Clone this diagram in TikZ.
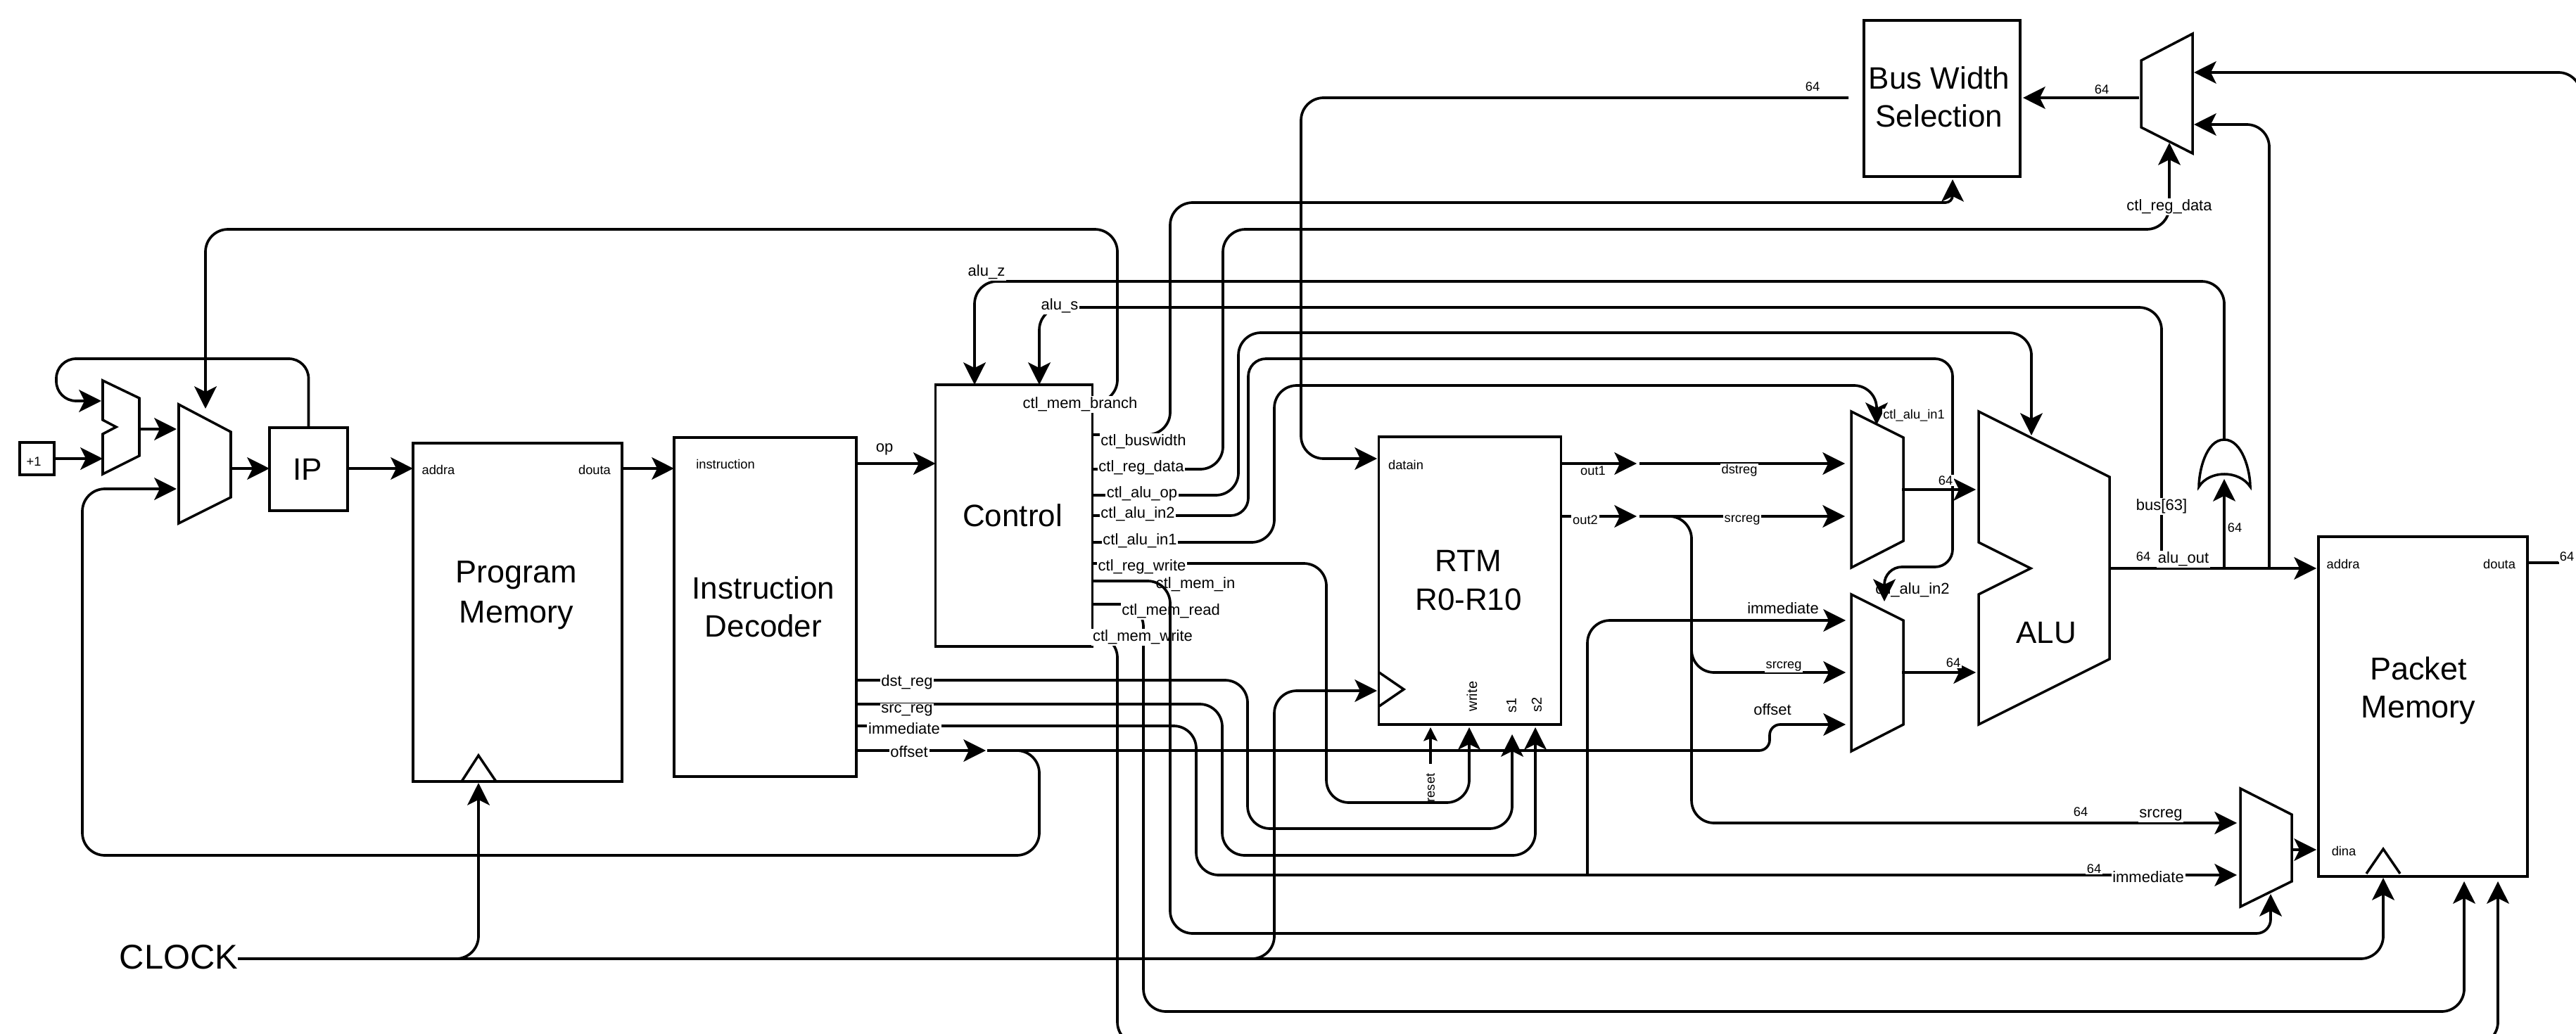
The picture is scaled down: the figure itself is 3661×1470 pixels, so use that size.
\documentclass[tikz,border=0pt]{standalone}
\usepackage{fontspec}
\setmainfont{Liberation Sans}
\usetikzlibrary{arrows.meta}

\begin{document}
\begin{tikzpicture}[
    x=0.01cm, y=-0.01cm,
    blk/.style={draw, line width=1pt, inner sep=0pt, outer sep=0pt},
    shp/.style={draw, line width=1pt, line join=miter},
    line/.style={line width=1.05pt, rounded corners=0.32cm},
    wire/.style={line, -{Stealth[length=9pt, width=9pt, inset=2.2pt]}},
    thin wire/.style={line, -{Stealth[length=5.5pt, width=5.5pt, inset=1pt]}},
    bigtxt/.style={font=\fontsize{12.5}{15.5}\selectfont, align=center, inner sep=0pt},
    lbl/.style={font=\fontsize{6.26}{7}\selectfont, fill=white, inner sep=0.5pt, yshift=-0.03cm},
    sublbl/.style={font=\fontsize{5.2}{6}\selectfont, fill=white, inner sep=0.5pt, yshift=-0.02cm},
    rotlbl/.style={font=\fontsize{5.7}{6}\selectfont, rotate=90, inner sep=0pt},
]
\useasboundingbox (0,0) rectangle (3661,1470);
\clip (0,0) rectangle (3661,1470);

% --- Blocks ---
\node[blk, minimum width=0.49cm, minimum height=0.46cm] (plus) at (52.5,652) {};
\node[blk, minimum width=1.11cm, minimum height=1.18cm] (ip) at (438.5,667) {};
\node[blk, minimum width=2.97cm, minimum height=4.81cm] (pm) at (735.5,870.5) {};
\node[blk, minimum width=2.59cm, minimum height=4.82cm] (dec) at (1087.5,863) {};
\node[blk, minimum width=2.225cm, minimum height=3.72cm] (ctl) at (1441,733) {};
\node[blk, minimum width=2.59cm, minimum height=4.09cm] (rtm) at (2089,825.5) {};
\node[blk, minimum width=2.22cm, minimum height=2.22cm] (bus) at (2760,140) {};
\node[blk, minimum width=2.97cm, minimum height=4.83cm] (pkt) at (3443.5,1004.5) {};

% Muxes, adder, ALU
\draw[shp] (146,541) -- (198,566) -- (198,648) -- (146,674) -- (146,617)
    -- (165,607) -- (146,597) -- cycle;
\draw[shp] (254,575) -- (328,614) -- (328,707) -- (254,744) -- cycle;
\draw[shp] (3043,86) -- (3116,48) -- (3116,218) -- (3043,181) -- cycle;
\draw[shp] (2631,585) -- (2705,622) -- (2705,769) -- (2631,807) -- cycle;
\draw[shp] (2631,845) -- (2705,882) -- (2705,1030) -- (2631,1068) -- cycle;
\draw[shp] (3184,1121) -- (3257,1158) -- (3257,1253) -- (3184,1289) -- cycle;
\draw[shp] (2812,585) -- (2998,678) -- (2998,937) -- (2812,1030) -- (2812,845)
    -- (2886,808) -- (2812,771) -- cycle;

% Clock triangles
\draw[shp] (656,1111) -- (680,1074) -- (705,1111);
\draw[shp] (1960,956) -- (1995,980) -- (1960,1004);
\draw[shp] (3363,1242) -- (3387,1207) -- (3411,1242);

% OR gate
\draw[shp] (3161,625) .. controls (3135,625) and (3125,670) .. (3125,692)
    .. controls (3140,668) and (3182,668) .. (3198,692)
    .. controls (3198,670) and (3187,625) .. (3161,625);

% Block titles
\node[bigtxt] (iptxt) at (437,667) {IP};
\node[bigtxt, font=\fontsize{12.8}{16.2}\selectfont] (pmtxt) at (734,846) {Program\\Memory};
\node[bigtxt] (dectxt) at (1085,863) {Instruction\\Decoder};
\node[bigtxt] (ctltxt) at (1439,733) {Control};
\node[bigtxt] (rtmtxt) at (2087,825) {RTM\\R0-R10};
\node[bigtxt] (bustxt) at (2756,138) {Bus Width\\Selection};
\node[bigtxt] (alutxt) at (2908,900) {ALU};
\node[bigtxt, font=\fontsize{12.8}{15.5}\selectfont] (pkttxt) at (3437,982) {Packet\\Memory};

% Labels that wires run over
\node[lbl] (lblin2) at (2718,836) {ctl\_alu\_in2};
\node[rotlbl, font=\fontsize{5.2}{6}\selectfont] (lblreset) at (2033,1120) {reset};

% --- Ports ---
\coordinate (ctlBranch) at (1552,572);
\coordinate (ctlWidth) at (1552,618);
\coordinate (ctlData) at (1552,667);
\coordinate (ctlOp) at (1552,704);
\coordinate (ctlIn2) at (1552,733);
\coordinate (ctlIn1) at (1552,771);
\coordinate (ctlWrite) at (1552,801);
\coordinate (ctlMemIn) at (1552,826);
\coordinate (ctlMemRead) at (1552,859);
\coordinate (ctlMemWrite) at (1552,903);
\coordinate (decDst) at (1217,967);
\coordinate (decSrc) at (1217,1001);
\coordinate (decImm) at (1217,1032);
\coordinate (decOff) at (1217,1067);
\coordinate (offMid) at (1403,1067);
\coordinate (rtmOut) at (2219,734);
\coordinate (outMid) at (2330,734);
\coordinate (immUp) at (2256,1244);
\coordinate (srcUp) at (2404,920);
\coordinate (aluOut) at (2998,808);
\coordinate (clkStart) at (338,1363);
\coordinate (clkPm) at (640,1363);
\coordinate (clkRtm) at (1770,1363);

% --- Fetch ---
\draw[wire] (plus.east |- 0,652) -- (146,652);
\draw[wire] (198,610) -- (251,610);
\draw[wire] (328,666) -- (ip.west |- 0,666);
\draw[wire] (ip.east |- 0,666) -- (pm.west |- 0,666);
\draw[wire] (pm.east |- 0,666) -- (dec.west |- 0,666);
\draw[wire, rounded corners=0.28cm] (ip.north) |- (80,510) |- (144,570);
\draw[wire] (dec.east |- 0,659) -- (ctl.west |- 0,659);

% --- Control outputs ---
\draw[wire] (ctlBranch) -| (1588,326) -- (292,326) -- (292,581);
\draw[wire] (ctlWidth) -| (1663,288) [rounded corners=0.1cm] -| (2775,255);
\draw[wire] (ctlData) -| (1738,326) -| (3083,203);
\draw[wire] (ctlOp) -| (1760,473) -| (2887,619);
\draw[wire, rounded corners=0.25cm] (ctlIn2) -| (1774,510) -| (2775,806) -| (2678,855);
\draw[wire] (ctlIn1) -| (1811,548) -| (2667,604);
\draw[wire] (ctlWrite) -| (1885,1141) -| (2088,1034);
\draw[wire] (ctlMemRead) -| (1625,1438) -| (3502,1253);
\draw[wire] (ctlMemWrite) -| (1588,1485) -| (3550,1253);

% --- Decoder outputs ---
\draw[wire] (decDst) -| (1773,1178) -| (2149,1044);
\draw[wire] (decSrc) -| (1737,1216) -| (2182,1034);
\draw[wire] (decImm) -| (1700,1244) -- (3179,1244);
\draw[wire] (decOff) -- (1401,1067);
\draw[wire, rounded corners=0.15cm] (offMid) -| (2515,1030) -- (2623,1030);
\draw[wire] (offMid) -| (1477,1216) -| (117,695) -- (251,695);
\draw[wire] (immUp) |- (2623,882);
\draw[thin wire] (2033,1086) -- (2033,1034);

% --- RTM and ALU ---
\draw[wire] (2627,139) -| (1849,652) -- (1957,652);
\draw[wire] (rtm.east |- 0,659) -- (2326,659);
\draw[wire] (2330,659) -- (2622,659);
\draw[wire] (rtmOut) -- (2326,734);
\draw[wire] (outMid) -- (2622,734);
\draw[wire] (outMid) -| (2404,1170) -- (3179,1170);
\draw[wire] (srcUp) |- (2623,956);
\draw[wire] (2703,696) -- (2808,696);
\draw[wire] (2703,956) -- (2808,956);
\draw[wire] (aluOut) -- (3292,808);
\draw[wire] (3161,808) -- (3161,681);
\draw[wire] (3161,625) |- (1385,400) -- (1385,547);
\draw[wire] (3072,808) |- (1477,437) -- (1477,547);
\draw[wire] (3225,808) |- (3118,177);
\draw[wire] (3668,300) |- (3118,103);
\draw[wire] (3040,139) -- (2875,139);

% --- Packet memory ---
\draw[wire] (3257,1208) -- (3292,1208);
\draw[line] (pkt.east |- 0,800) -- (3637,800);

% --- Clock ---
\draw[wire] (clkStart) -| (3387,1248);
\draw[wire] (clkPm) -| (680,1113);
\draw[wire] (clkRtm) -| (1811,982) -- (1957,982);

% --- Labels ---
\foreach \n/\x/\y/\t in {
    lblbranch/1535/572/ctl\_mem\_branch, lblwidth/1625/625/ctl\_buswidth,
    lbldata/1622/662/ctl\_reg\_data, lblop/1623/699/ctl\_alu\_op,
    lblinb/1617/728/ctl\_alu\_in2, lblina/1620/766/ctl\_alu\_in1,
    lblwrite/1623/803/ctl\_reg\_write, lblread/1664/866/ctl\_mem\_read,
    lblmwrite/1624/903/ctl\_mem\_write, lblz/1402/384/alu\_z, lbls/1506/432/alu\_s,
    lblopc/1257/636/op, lbldst/1289/967/dst\_reg, lblsrc/1289/1007/src\_reg,
    lblimm/1285/1033/immediate, lbloff/1292/1066/offset,
    lblimmb/2534/862/immediate, lbloffb/2519/1006/offset,
    lblsrcc/3071/1156/srcreg, lblimmc/3053/1244/immediate,
    lbldatab/3083/291/ctl\_reg\_data, lblbus/3072/717/bus[63], lblalu/3103/792/alu\_out
} {
    \node[lbl] (\n) at (\x,\y) {\t};
}
\foreach \n/\x/\y/\t in {
    lblplus/48/654/+1, lbladdr/623/666/addra, lbldout/845/666/douta,
    lblinstr/1031/658/instruction, lbldin/1998/659/datain,
    lblout/2264/667/out1, lbloutb/2253/737/out2, lbldstb/2472/667/dstreg,
    lblsrcb/2476/737/srcreg, lblsrcd/2535/945/srcreg, lblinc/2720/589/ctl\_alu\_in1,
    lblw/2576/121/64, lblwb/2987/125/64, lblwc/2765/681/64, lblwd/2776/940/64,
    lblwe/2957/1152/64, lblwf/2976/1233/64, lblwg/3046/789/64, lblwh/3176/748/64,
    lblwi/3648/789/64, lbladdrb/3330/800/addra, lbldoutb/3552/800/douta,
    lbldinb/3331/1208/dina
} {
    \node[sublbl] (\n) at (\x,\y) {\t};
}
\node[rotlbl] (lblwr) at (2092,990) {write};
\node[rotlbl] (lblsa) at (2148,1003) {s1};
\node[rotlbl] (lblsb) at (2184,1002) {s2};
\node[font=\fontsize{13.9}{15}\selectfont, inner sep=0pt] (clock) at (254,1361) {CLOCK};

% Runs over its neighbours' labels
\node[lbl, fill=none] (lblmemin) at (1699,828) {ctl\_mem\_in};
\draw[wire] (ctlMemIn) -| (1663,1327) [rounded corners=0.2cm] -| (3227,1271);

\end{tikzpicture}
\end{document}
